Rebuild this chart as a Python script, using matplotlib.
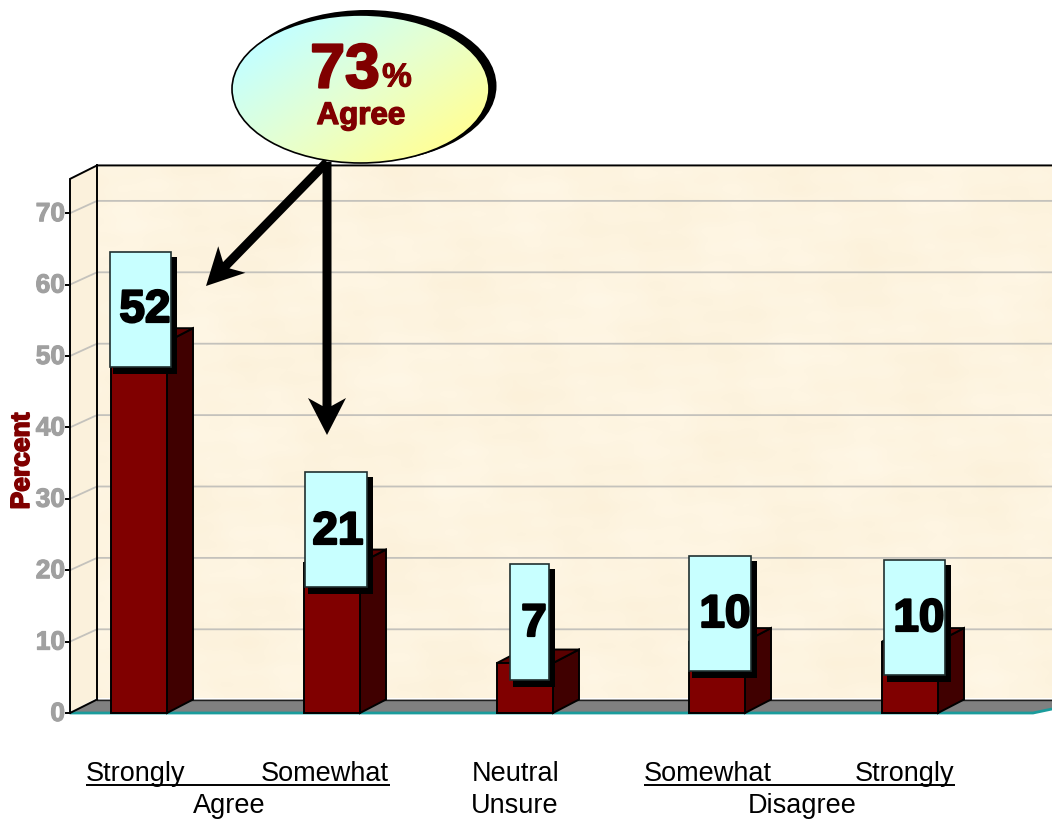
import numpy as np
import matplotlib
matplotlib.use('Agg')
import matplotlib.pyplot as plt
import matplotlib.patheffects as pe
from matplotlib.patches import Polygon, Ellipse, Rectangle
from matplotlib.colors import LinearSegmentedColormap

# Survey results, percent of respondents
responses = ['Strongly', 'Somewhat', 'Neutral', 'Somewhat', 'Strongly']
values = [52, 21, 7, 10, 10]
y_ticks = [0, 10, 20, 30, 40, 50, 60, 70]
agree_total = 73

# Layout (pixels on the 1052x819 canvas)
W, H = 1052, 819
BASE = 713
PX_PER_UNIT = 7.14
DEPTH_X = 27
DEPTH_Y = 13.5 / PX_PER_UNIT
GRID_DEPTH = 12.3 / PX_PER_UNIT
BAR_DEPTH = 26
WALL_X = 70
YMAX = 74.8
bar_left = [111, 304, 497, 689, 882]
BAR_W = 56

# callout boxes: left, top, right, bottom, text centre x, text centre y
boxes = [(110, 252, 171, 367, 145, 310),
         (305, 472, 367, 587, 338, 532),
         (510, 564, 549, 680, 534, 624),
         (689, 556, 751, 671, 725, 615),
         (884, 560, 945, 675, 919, 619)]

DARK_RED = '#800000'
SIDE_RED = '#400000'
TICK_GREY = '#a0a0a0'
GRID_GREY = '#c4c2bc'
FONT = 'Liberation Sans'

fig = plt.figure(figsize=(W / 100, H / 100), dpi=100)
ax = fig.add_axes([0, 0, 1, 1])
ax.axis('off')


def mottle(nx, ny, shift=0.0):
    # soft parchment blotches built from a few overlapping waves
    x, y = np.meshgrid(np.linspace(0, 1, nx), np.linspace(0, 1, ny))
    z = (np.sin(23 * x + 9 * y + shift) * np.sin(17 * y - 6 * x)
         + 0.6 * np.sin(47 * x - 31 * y) * np.sin(41 * y + 13 * x + shift)
         + 0.4 * np.sin(83 * x + 71 * y) * np.cos(97 * y - 53 * x))
    return z / np.abs(z).max()


parchment = LinearSegmentedColormap.from_list('parchment', ['#fcf1da', '#fff7e6'])

# back wall and left wall
back_top = YMAX + DEPTH_Y
wall_bottom = DEPTH_Y + 0.25
back = ax.imshow(mottle(400, 300), cmap=parchment, aspect='auto', zorder=1,
                 extent=(WALL_X + DEPTH_X, W, wall_bottom, back_top))
left_poly = Polygon([(WALL_X, 0.1), (WALL_X + DEPTH_X, wall_bottom),
                     (WALL_X + DEPTH_X, back_top), (WALL_X, YMAX)],
                    facecolor='#fbf1dc', edgecolor='none', zorder=1)
ax.add_patch(left_poly)

# floor with its teal front edge
floor_right = 1033
floor_end = DEPTH_Y - 19 / DEPTH_X * DEPTH_Y
floor = Polygon([(WALL_X, 0), (WALL_X + DEPTH_X, DEPTH_Y), (W, DEPTH_Y),
                 (W, floor_end), (floor_right, 0)],
                facecolor='#808080', edgecolor='none', zorder=2)
ax.add_patch(floor)
ax.plot([WALL_X, floor_right, W], [0, 0, floor_end],
        color='#1a9c9c', lw=2.0, zorder=2.2, solid_capstyle='butt')
ax.plot([WALL_X + DEPTH_X, W], [DEPTH_Y, DEPTH_Y], color='#202020', lw=1.0, zorder=2.2)

# gridlines run across the left wall and then along the back wall
for t in y_ticks[1:]:
    ax.plot([WALL_X, WALL_X + DEPTH_X, W], [t, t + GRID_DEPTH, t + GRID_DEPTH],
            color=GRID_GREY, lw=1.3, zorder=1.5)

# wall outlines
frame = dict(color='black', lw=1.4, zorder=3, solid_joinstyle='miter')
ax.plot([WALL_X, WALL_X, WALL_X + DEPTH_X, W], [0, YMAX, back_top, back_top], **frame)
ax.plot([WALL_X + DEPTH_X, WALL_X + DEPTH_X], [wall_bottom, back_top], **frame)
ax.plot([WALL_X, WALL_X + DEPTH_X], [0, DEPTH_Y], **frame)

# 3D bars
for left, v in zip(bar_left, values):
    right = left + BAR_W
    edge = dict(edgecolor='black', lw=1.4, zorder=4, joinstyle='miter')
    ax.add_patch(Polygon([(right, 0), (right + BAR_DEPTH, DEPTH_Y),
                          (right + BAR_DEPTH, v + DEPTH_Y), (right, v)],
                         facecolor=SIDE_RED, **edge))
    ax.add_patch(Polygon([(left, v), (left + BAR_DEPTH, v + DEPTH_Y),
                          (right + BAR_DEPTH, v + DEPTH_Y), (right, v)],
                         facecolor='#5a0000', **edge))
    ax.bar(left, v, width=BAR_W, align='edge', color=DARK_RED, edgecolor='black',
           linewidth=1.4, zorder=4.1)

# y tick marks
for t in y_ticks:
    ax.plot([WALL_X - 4, WALL_X], [t, t], color='black', lw=1.4, zorder=3)

ax.set_xlim(0, W)
ax.set_ylim((BASE - H) / PX_PER_UNIT, BASE / PX_PER_UNIT)

# everything annotated in pixel coordinates goes on an overlay
ov = fig.add_axes([0, 0, 1, 1], facecolor='none')
ov.axis('off')


def heavy(w, colour):
    return [pe.withStroke(linewidth=w, foreground=colour)]


# value callouts with a hard drop shadow
for (l, t, r, b, tx, ty), v in zip(boxes, values):
    ov.add_patch(Rectangle((l + 3, t + 5), r - l + 3, b - t + 2, facecolor='black',
                           edgecolor='none', zorder=5))
    ov.add_patch(Rectangle((l, t), r - l, b - t, facecolor='#c8ffff',
                           edgecolor='#203030', lw=1.2, zorder=6))
    ov.text(tx, ty, str(v), family=FONT, fontsize=33, fontweight='bold', color='black',
            ha='center', va='center', zorder=7, path_effects=heavy(1.6, 'black'))

# y tick labels
for t in y_ticks:
    py = BASE - t * PX_PER_UNIT + 1
    ov.text(65, py, str(t), family=FONT, fontsize=19, fontweight='bold', color=TICK_GREY,
            ha='right', va='center', zorder=7, path_effects=heavy(0.8, TICK_GREY))

ov.text(22, 461, 'Percent', family=FONT, fontsize=19, fontweight='bold', color=DARK_RED,
        rotation=90, ha='center', va='center', zorder=7, path_effects=heavy(1.2, DARK_RED))


def arrow(x0, y0, x1, y1, shaft=9.0, head_len=37, head_half=19, notch=29):
    # straight black arrow with a swept-back head
    d = np.array([x1 - x0, y1 - y0], dtype=float)
    d /= np.hypot(*d)
    n = np.array([-d[1], d[0]])
    tip = np.array([x1, y1], dtype=float)
    start = np.array([x0, y0], dtype=float)
    neck = tip - d * notch
    pts = [start + n * shaft / 2, neck + n * shaft / 2,
           tip - d * head_len + n * head_half, tip,
           tip - d * head_len - n * head_half, neck - n * shaft / 2,
           start - n * shaft / 2]
    ov.add_patch(Polygon(pts, facecolor='black', edgecolor='none', zorder=8))


arrow(327, 162, 206, 286)
arrow(327, 162, 327, 435)

# gradient bubble with the combined agree figure
cx, cy, ew, eh = 360.5, 89, 257, 148
ov.add_patch(Ellipse((cx + 6, cy - 3), ew + 3, eh + 4, facecolor='black', edgecolor='none', zorder=9))
gx, gy = np.meshgrid(np.linspace(0, 1, 200), np.linspace(0, 1, 120))
bubble_cmap = LinearSegmentedColormap.from_list('bubble', ['#c4ffff', '#e6ffd0', '#ffff99'])
grad = ov.imshow(0.55 * gx + 0.45 * gy, cmap=bubble_cmap, aspect='auto', zorder=10,
                 extent=(cx - ew / 2, cx + ew / 2, cy + eh / 2, cy - eh / 2), vmin=0.15, vmax=0.85)
rim = Ellipse((cx, cy), ew, eh, facecolor='none', edgecolor='black', lw=1.2, zorder=11)
ov.add_patch(rim)
grad.set_clip_path(rim)

ov.text(345, 71, str(agree_total), family=FONT, fontsize=45, fontweight='bold', color=DARK_RED,
        ha='center', va='center', zorder=12, path_effects=heavy(1.6, DARK_RED))
ov.text(397, 78, '%', family=FONT, fontsize=24, fontweight='bold', color=DARK_RED,
        ha='center', va='center', zorder=12, path_effects=heavy(0.8, DARK_RED))
ov.text(361, 116, 'Agree', family=FONT, fontsize=22.5, fontweight='bold', color=DARK_RED,
        ha='center', va='center', zorder=12, path_effects=heavy(1.0, DARK_RED))

# category labels under the chart
label_x = [136, 325, 516, 708, 905]
for x, name in zip(label_x, responses):
    ov.text(x, 774, name, family=FONT, fontsize=19.5, color='black', ha='center', va='center')
ov.text(229, 806, 'Agree', family=FONT, fontsize=19.5, color='black', ha='center', va='center')
ov.text(515, 806, 'Unsure', family=FONT, fontsize=19.5, color='black', ha='center', va='center')
ov.text(802, 806, 'Disagree', family=FONT, fontsize=19.5, color='black', ha='center', va='center')
ov.plot([86, 390], [785, 785], color='black', lw=1.4, solid_capstyle='butt')
ov.plot([644, 955], [785, 785], color='black', lw=1.4, solid_capstyle='butt')

ov.set_xlim(0, W)
ov.set_ylim(H, 0)

fig.savefig('out.png', dpi=100, facecolor='white')
plt.close(fig)
